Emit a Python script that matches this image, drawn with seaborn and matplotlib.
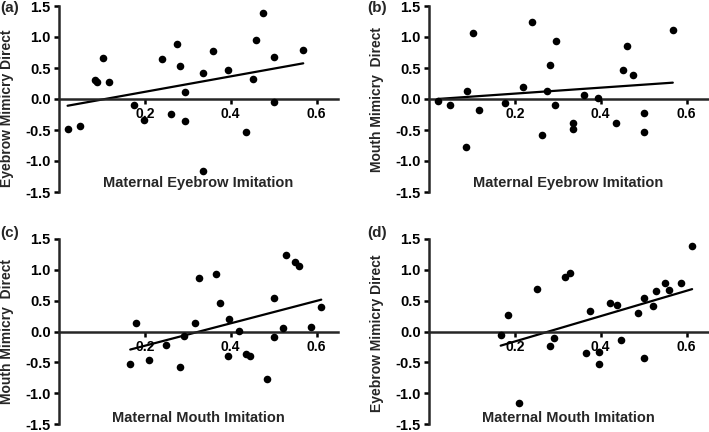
import numpy as np
import pandas as pd
import matplotlib
matplotlib.use("Agg")
import matplotlib.pyplot as plt
import seaborn as sns

# ---- data ----
eyebrow_imit_a = [0.020, 0.048, 0.084, 0.088, 0.102, 0.116, 0.175, 0.197, 0.241, 0.262,
                  0.274, 0.281, 0.293, 0.294, 0.335, 0.335, 0.359, 0.394, 0.435, 0.453,
                  0.460, 0.476, 0.502, 0.502, 0.569]
eyebrow_mimic_a = [-0.49, -0.43, 0.30, 0.27, 0.66, 0.27, -0.10, -0.34, 0.64, -0.24,
                   0.88, 0.53, 0.12, -0.36, 0.42, -1.16, 0.78, 0.46, -0.53, 0.32,
                   0.95, 1.38, 0.68, -0.05, 0.79]

eyebrow_imit_b = [0.021, 0.049, 0.086, 0.088, 0.102, 0.116, 0.177, 0.219, 0.241, 0.264,
                  0.275, 0.281, 0.294, 0.295, 0.335, 0.335, 0.360, 0.393, 0.435, 0.453,
                  0.461, 0.475, 0.502, 0.502, 0.568]
mouth_mimic_b = [-0.04, -0.10, -0.78, 0.13, 1.06, -0.17, -0.07, 0.20, 1.24, -0.58,
                 0.13, 0.55, -0.10, 0.93, -0.38, -0.48, 0.06, 0.02, -0.39, 0.46,
                 0.86, 0.38, -0.23, -0.53, 1.12]

mouth_imit_c = [0.166, 0.180, 0.210, 0.249, 0.281, 0.291, 0.317, 0.327, 0.365, 0.374,
                0.395, 0.393, 0.419, 0.436, 0.446, 0.485, 0.500, 0.500, 0.521, 0.529,
                0.549, 0.560, 0.587, 0.611]
mouth_mimic_c = [-0.52, 0.13, -0.47, -0.22, -0.58, -0.07, 0.13, 0.86, 0.93, 0.46,
                 0.21, -0.39, 0.01, -0.37, -0.39, -0.77, -0.09, 0.55, 0.05, 1.24,
                 1.12, 1.07, 0.07, 0.39]

mouth_imit_d = [0.167, 0.184, 0.210, 0.251, 0.282, 0.292, 0.318, 0.328, 0.366, 0.375,
                0.395, 0.397, 0.421, 0.438, 0.447, 0.486, 0.500, 0.500, 0.522, 0.530,
                0.550, 0.560, 0.588, 0.613]
eyebrow_mimic_d = [-0.05, 0.27, -1.16, 0.69, -0.23, -0.10, 0.88, 0.95, -0.35, 0.33,
                   -0.52, -0.33, 0.47, 0.43, -0.14, 0.30, -0.43, 0.54, 0.41, 0.65,
                   0.79, 0.67, 0.78, 1.38]

x_ticks = [0.2, 0.4, 0.6]
y_ticks = [-1.5, -1.0, -0.5, 0.0, 0.5, 1.0, 1.5]

panels = [
    ("(a)", eyebrow_imit_a, eyebrow_mimic_a, "Maternal Eyebrow Imitation", "Eyebrow Mimicry Direct"),
    ("(b)", eyebrow_imit_b, mouth_mimic_b, "Maternal Eyebrow Imitation", "Mouth Mimicry  Direct"),
    ("(c)", mouth_imit_c, mouth_mimic_c, "Maternal Mouth Imitation", "Mouth Mimicry  Direct"),
    ("(d)", mouth_imit_d, eyebrow_mimic_d, "Maternal Mouth Imitation", "Eyebrow Mimicry Direct"),
]

sns.set_style("ticks")
plt.rcParams['font.family'] = ['Liberation Sans', 'DejaVu Sans']
plt.rcParams['font.weight'] = 'bold'
plt.rcParams['axes.unicode_minus'] = False

W, H = 709, 432
fig = plt.figure(figsize=(W / 100, H / 100), dpi=100)

# axes rectangles in pixels: (left, top, right, bottom)
rects = [(59, 6, 338, 192), (429, 6, 708, 192), (59, 239, 338, 424), (429, 239, 708, 424)]
label_pos = [(0, 8), (367, 8), (0, 233), (367, 233)]
xlabel_y = [0.048, 0.048, 0.035, 0.035]
ylabel_y = [0.45, 0.5, 0.5, 0.49]

for i, ((tag, xs, ys, xlab, ylab), (l, t, r, b), (lx, ly)) in enumerate(zip(panels, rects, label_pos)):
    ax = fig.add_axes([l / W, 1 - b / H, (r - l) / W, (b - t) / H])
    df = pd.DataFrame({"x": xs, "y": ys})
    sns.regplot(data=df, x="x", y="y", ax=ax, ci=None, truncate=True,
                color="black",
                scatter_kws=dict(s=30, linewidths=0, alpha=1, zorder=3),
                line_kws=dict(linewidth=1.6, zorder=2))
    ax.set_xlim(0, 0.65)
    ax.set_ylim(-1.5, 1.5)
    ax.set_xticks(x_ticks)
    ax.set_xticklabels([f"{v:.1f}" for v in x_ticks], fontsize=10.5, fontweight="bold")
    ax.set_yticks(y_ticks)
    ax.set_yticklabels([f"{v:.1f}" for v in y_ticks], fontsize=10.5, fontweight="bold")
    for s in ("top", "right"):
        ax.spines[s].set_visible(False)
    ax.spines["bottom"].set_position(("data", 0))
    ax.spines["bottom"].set_linewidth(1.8)
    ax.spines["left"].set_linewidth(1.8)
    ax.tick_params(axis="both", width=1.8, length=3.5, direction="out", pad=2.5, colors="black")
    ax.set_xlabel(xlab, fontsize=10.5, fontweight="bold")
    ax.xaxis.set_label_coords(0.5, xlabel_y[i])
    ax.xaxis.label.set_va("center")
    ax.set_ylabel(ylab, fontsize=10, fontweight="bold")
    ax.yaxis.set_label_coords(-52 / (r - l), ylabel_y[i])
    ax.yaxis.label.set_va("center")
    ax.patch.set_alpha(0)
    fig.text(lx / W, 1 - ly / H, tag, fontsize=11, fontweight="bold", va="center", ha="left")

fig.savefig("out.png", dpi=100)
